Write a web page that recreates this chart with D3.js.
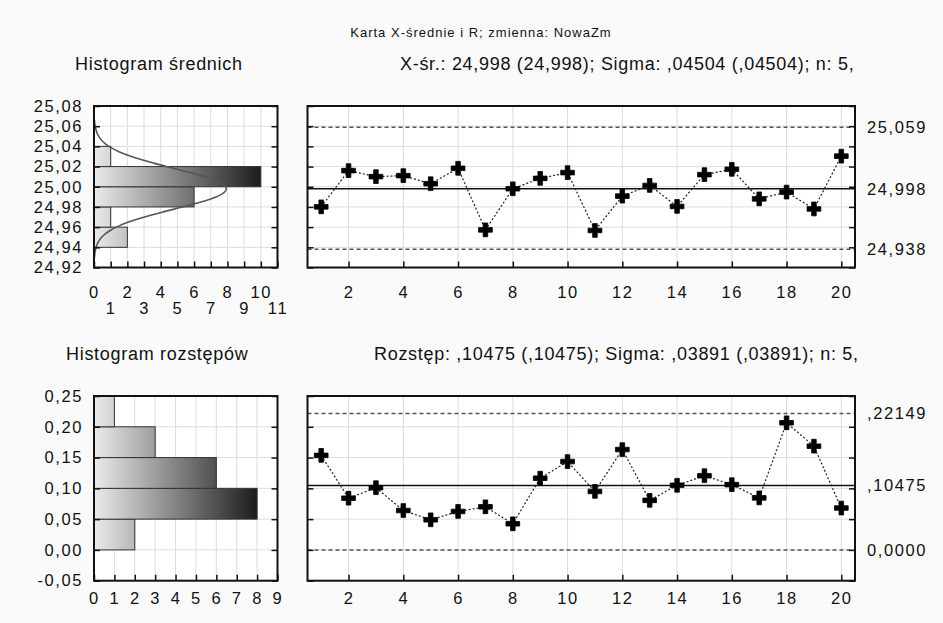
<!DOCTYPE html>
<html>
<head>
<meta charset="utf-8">
<script src="https://cdn.jsdelivr.net/npm/d3@7"></script>
<style>
  body { margin: 0; background: #fafafa; }
  svg { display: block; font-family: "Liberation Sans", Arial, sans-serif; }
  .grid line { stroke: #dcdcdc; stroke-width: 1; }
  .axis text { font-size: 16.5px; fill: #111; letter-spacing: 1.6px; }
  .axis line { stroke: #111; stroke-width: 1.5; }
  .hdr { font-size: 18px; fill: #111; letter-spacing: 0.7px; }
</style>
</head>
<body>
<svg id="chart" width="943" height="623"></svg>
<script>
// sample numbers 1..20
var samples = d3.range(1, 21);

// sample means (X-bar)
var xbarValues = [24.9801, 25.016, 25.010, 25.011, 25.003, 25.0183, 24.9573, 24.998, 25.0083, 25.014,
                  24.9567, 24.9907, 25.0013, 24.9805, 25.012, 25.0173, 24.988, 24.9947, 24.978, 25.0303];

// sample ranges (R)
var rangeValues = [0.1535, 0.0840, 0.1010, 0.0640, 0.0489, 0.0625, 0.0700, 0.0424, 0.1165, 0.1435,
                   0.0950, 0.1630, 0.0805, 0.1050, 0.1205, 0.1060, 0.0845, 0.2065, 0.1685, 0.0680];

// histogram of means: bins (lower edge) and counts
var meanBins = [24.94, 24.96, 24.98, 25.00, 25.02];
var meanCounts = [2, 1, 6, 10, 1];
var meanBinWidth = 0.02;

// histogram of ranges
var rangeBins = [0.00, 0.05, 0.10, 0.15, 0.20];
var rangeCounts = [2, 8, 6, 3, 1];
var rangeBinWidth = 0.05;

// control limits (UCL, CL, LCL)
var xbarLimits = [25.059, 24.998, 24.938];
var xbarLimitLabels = ["25,059", "24,998", "24,938"];
var rangeLimits = [0.22149, 0.10475, 0.0];
var rangeLimitLabels = [",22149", ",10475", "0,0000"];

// fitted normal for the means histogram
var meanX = 24.998, sigmaX = 0.04504, nSample = 5;

var title = "Karta X-średnie i R; zmienna:  NowaZm";
var headers = ["Histogram średnich", "X-śr.: 24,998 (24,998); Sigma: ,04504 (,04504); n: 5,",
               "Histogram rozstępów", "Rozstęp: ,10475 (,10475); Sigma: ,03891 (,03891); n: 5,"];

var pl = d3.formatLocale({decimal: ",", thousands: " ", grouping: [3], currency: ["", ""], minus: "-"});
var f2 = pl.format(".2f");

var svg = d3.select("#chart");

// panel geometry
var histLeft = 94, histRight = 277.5, chartLeft = 307.5, chartRight = 855;
var top1 = 106, bottom1 = 267.5, top2 = 396, bottom2 = 580.7;

var yMean = d3.scaleLinear().domain([24.92, 25.08]).range([bottom1, top1]);
var xHist1 = d3.scaleLinear().domain([0, 11]).range([histLeft, histRight]);
var yRange = d3.scaleLinear().domain([-0.05, 0.25]).range([bottom2, top2]);
var xHist2 = d3.scaleLinear().domain([0, 9]).range([histLeft, histRight]);
var xSample = d3.scaleLinear().domain([0.5, 20.5]).range([chartLeft, chartRight]);

var meanTicks = d3.range(24.92, 25.0801, 0.02);
var rangeTicks = d3.range(-0.05, 0.2501, 0.05);

// gradients
var defs = svg.append("defs");
function gradient(id, x0, x1) {
  var g = defs.append("linearGradient").attr("id", id)
    .attr("gradientUnits", "userSpaceOnUse")
    .attr("x1", x0).attr("x2", x1).attr("y1", 0).attr("y2", 0);
  g.append("stop").attr("offset", "0%").attr("stop-color", "#ebebeb");
  g.append("stop").attr("offset", "100%").attr("stop-color", "#1c1c1c");
}
gradient("grad1", xHist1(0), xHist1(d3.max(meanCounts)));
gradient("grad2", xHist2(0), xHist2(d3.max(rangeCounts)));

// title + headers
svg.append("text").attr("x", 481).attr("y", 37).attr("text-anchor", "middle")
  .style("font-size", "13px").style("letter-spacing", "1px").attr("fill", "#111").text(title);
svg.append("text").attr("class", "hdr").attr("x", 75).attr("y", 70).text(headers[0]);
svg.append("text").attr("class", "hdr").attr("x", 400).attr("y", 70).text(headers[1]);
svg.append("text").attr("class", "hdr").attr("x", 66).attr("y", 360).text(headers[2]);
svg.append("text").attr("class", "hdr").attr("x", 374).attr("y", 360).text(headers[3]);

function panelBg(x0, x1, y0, y1) {
  svg.append("rect").attr("x", x0).attr("y", y0).attr("width", x1 - x0).attr("height", y1 - y0)
    .attr("fill", "#fff");
}
function frame(x0, x1, y0, y1) {
  svg.append("rect").attr("x", x0).attr("y", y0).attr("width", x1 - x0).attr("height", y1 - y0)
    .attr("fill", "none").attr("stroke", "#111").attr("stroke-width", 2);
}
function grid(xs, ys, xScale, yScale) {
  var g = svg.append("g").attr("class", "grid");
  g.selectAll(".v").data(xs).enter().append("line")
    .attr("x1", xScale).attr("x2", xScale)
    .attr("y1", yScale.range()[0]).attr("y2", yScale.range()[1]);
  g.selectAll(".h").data(ys).enter().append("line")
    .attr("y1", yScale).attr("y2", yScale)
    .attr("x1", xScale.range()[0]).attr("x2", xScale.range()[1]);
}

// ---------- histogram of means ----------
panelBg(histLeft, histRight, top1, bottom1);
grid(d3.range(1, 11), meanTicks, xHist1, yMean);

svg.append("g").selectAll("rect").data(meanBins).enter().append("rect")
  .attr("x", xHist1(0))
  .attr("y", function(d) { return yMean(d + meanBinWidth); })
  .attr("width", function(d, i) { return xHist1(meanCounts[i]) - xHist1(0); })
  .attr("height", function(d) { return yMean(d) - yMean(d + meanBinWidth); })
  .attr("fill", "url(#grad1)").attr("stroke", "#333").attr("stroke-width", 1);

// normal curve: expected count per bin
var sMean = sigmaX / Math.sqrt(nSample);
var nTot = d3.sum(meanCounts);
var curveY = d3.range(meanX - 3.4 * sMean, meanX + 3.4 * sMean, sMean / 40);
var curve = d3.line()
  .x(function(v) {
    var z = (v - meanX) / sMean;
    return xHist1(nTot * meanBinWidth * Math.exp(-0.5 * z * z) / (Math.sqrt(2 * Math.PI) * sMean));
  })
  .y(function(v) { return yMean(v); });
svg.append("path").datum(curveY).attr("d", curve)
  .attr("fill", "none").attr("stroke", "#555").attr("stroke-width", 1.6);

var ax1 = svg.append("g").attr("class", "axis").attr("transform", "translate(0," + bottom1 + ")")
  .call(d3.axisBottom(xHist1).ticks(11).tickSize(-6).tickPadding(18.5));
ax1.selectAll(".tick text").attr("y", function(d) { return d % 2 ? 35 : 18.5; });
svg.append("g").attr("class", "axis").attr("transform", "translate(" + histLeft + ",0)")
  .call(d3.axisLeft(yMean).tickValues(meanTicks).tickFormat(f2).tickSize(-6).tickPadding(11));
svg.append("g").attr("class", "axis").attr("transform", "translate(" + histRight + ",0)")
  .call(d3.axisRight(yMean).tickValues(meanTicks).tickFormat("").tickSize(-6));
frame(histLeft, histRight, top1, bottom1);

// ---------- X-bar chart ----------
panelBg(chartLeft, chartRight, top1, bottom1);
grid(d3.range(2, 21, 2), meanTicks, xSample, yMean);

function limitLines(limits, yScale) {
  svg.append("g").selectAll("line").data(limits).enter().append("line")
    .attr("x1", chartLeft).attr("x2", chartRight)
    .attr("y1", yScale).attr("y2", yScale)
    .attr("stroke", function(d, i) { return i === 1 ? "#111" : "#555"; })
    .attr("stroke-width", function(d, i) { return i === 1 ? 1.6 : 1.5; })
    .attr("stroke-dasharray", function(d, i) { return i === 1 ? null : "4,3"; });
}
function series(values, yScale) {
  var line = d3.line().x(function(d, i) { return xSample(samples[i]); }).y(function(d) { return yScale(d); });
  svg.append("path").datum(values).attr("d", line)
    .attr("fill", "none").attr("stroke", "#222").attr("stroke-width", 1.2).attr("stroke-dasharray", "2,2");
  svg.append("g").selectAll("path").data(values).enter().append("path")
    .attr("transform", function(d, i) { return "translate(" + xSample(samples[i]) + "," + yScale(d) + ")"; })
    .attr("d", d3.symbol(d3.symbolCross, 105))
    .attr("fill", "#000").attr("stroke", "#000").attr("stroke-width", 0.8).attr("stroke-linejoin", "round");
}
function chartAxes(yScale, yTicks, bottom, pad, limits, labels) {
  svg.append("g").attr("class", "axis").attr("transform", "translate(0," + bottom + ")")
    .call(d3.axisBottom(xSample).tickValues(d3.range(2, 21, 2)).tickSize(-6).tickPadding(pad));
  svg.append("g").attr("class", "axis").attr("transform", "translate(" + chartLeft + ",0)")
    .call(d3.axisLeft(yScale).tickValues(yTicks).tickFormat("").tickSize(-6));
  svg.append("g").attr("class", "axis").attr("transform", "translate(" + chartRight + ",0)")
    .call(d3.axisRight(yScale).tickValues(limits).tickFormat(function(d, i) { return labels[i]; })
      .tickSize(0).tickPadding(12));
  svg.append("g").attr("class", "axis").attr("transform", "translate(" + chartRight + ",0)")
    .call(d3.axisRight(yScale).tickValues(yTicks).tickFormat("").tickSize(-6));
}

limitLines(xbarLimits, yMean);
series(xbarValues, yMean);
chartAxes(yMean, meanTicks, bottom1, 18.5, xbarLimits, xbarLimitLabels);
frame(chartLeft, chartRight, top1, bottom1);

// ---------- histogram of ranges ----------
panelBg(histLeft, histRight, top2, bottom2);
grid(d3.range(1, 9), rangeTicks, xHist2, yRange);

svg.append("g").selectAll("rect").data(rangeBins).enter().append("rect")
  .attr("x", xHist2(0))
  .attr("y", function(d) { return yRange(d + rangeBinWidth); })
  .attr("width", function(d, i) { return xHist2(rangeCounts[i]) - xHist2(0); })
  .attr("height", function(d) { return yRange(d) - yRange(d + rangeBinWidth); })
  .attr("fill", "url(#grad2)").attr("stroke", "#333").attr("stroke-width", 1);

svg.append("g").attr("class", "axis").attr("transform", "translate(0," + bottom2 + ")")
  .call(d3.axisBottom(xHist2).ticks(9).tickSize(-6).tickPadding(12));
svg.append("g").attr("class", "axis").attr("transform", "translate(" + histLeft + ",0)")
  .call(d3.axisLeft(yRange).tickValues(rangeTicks).tickFormat(f2).tickSize(-6).tickPadding(11));
svg.append("g").attr("class", "axis").attr("transform", "translate(" + histRight + ",0)")
  .call(d3.axisRight(yRange).tickValues(rangeTicks).tickFormat("").tickSize(-6));
frame(histLeft, histRight, top2, bottom2);

// ---------- R chart ----------
panelBg(chartLeft, chartRight, top2, bottom2);
grid(d3.range(2, 21, 2), rangeTicks, xSample, yRange);
limitLines(rangeLimits, yRange);
series(rangeValues, yRange);
chartAxes(yRange, rangeTicks, bottom2, 12, rangeLimits, rangeLimitLabels);
frame(chartLeft, chartRight, top2, bottom2);

svg.selectAll(".axis .domain").remove();
</script>
</body>
</html>
